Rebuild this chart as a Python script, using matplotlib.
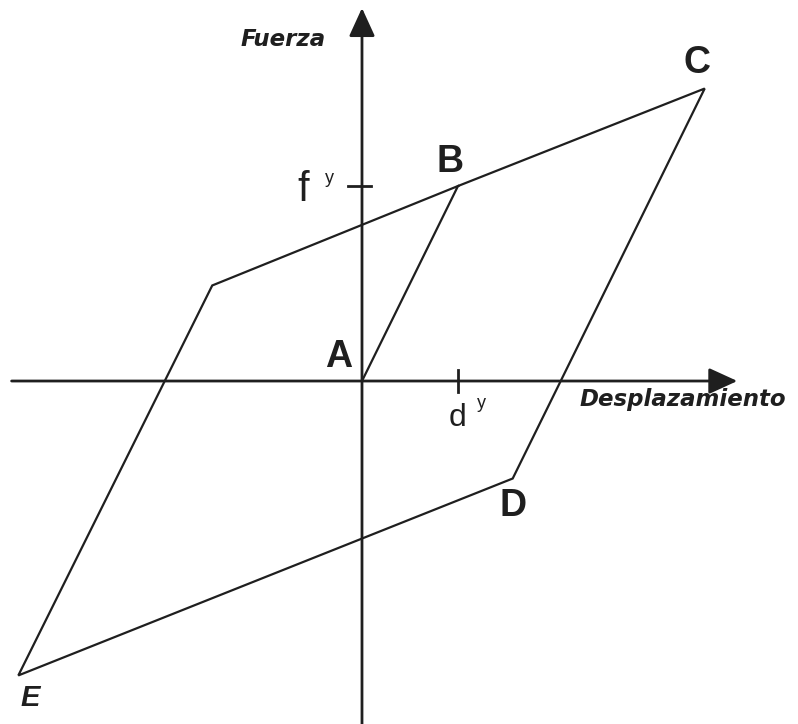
import matplotlib.pyplot as plt

# bilinear hysteresis loop, units of d^y (x) and f^y (y)
disp = [0.0, 1.0, 3.57, 1.57, -3.58, -1.56, 1.0]
force = [0.0, 1.0, 1.50, -0.50, -1.51, 0.49, 1.0]
point_names = ['A', 'B', 'C', 'D', 'E']

dy = 1.0    # yield displacement
fy = 1.0    # yield force

ink = '#1f1f1f'
plt.rcParams['font.family'] = ['Liberation Sans', 'DejaVu Sans']

fig = plt.figure(figsize=(7.98, 7.24), dpi=100)
ax = fig.add_axes([0, 0, 1, 1])
ax.set_xlim(-3.771, 4.542)
ax.set_ylim(-1.759, 1.954)
ax.axis('off')

# axes with arrow heads
arrow = dict(arrowstyle='-|>,head_length=1.75,head_width=0.8',
             color=ink, lw=2.0, shrinkA=0, shrinkB=0, mutation_scale=10)
ax.annotate('', xy=(3.91, 0), xytext=(-3.65, 0), arrowprops=arrow)
ax.annotate('', xy=(0, 1.913), xytext=(0, -1.76), arrowprops=arrow)

# yield ticks
ax.plot([-0.15, 0.09], [fy, fy], color=ink, lw=2.0)
ax.plot([dy, dy], [0.055, -0.055], color=ink, lw=2.0)

# the loop
ax.plot(disp, force, color=ink, lw=1.6, solid_joinstyle='miter')

# point labels (offsets in pixels from each vertex)
offsets = {'A': (-23, 24), 'B': (-8, 24), 'C': (-8, 26),
           'D': (0, -27), 'E': (12, -23)}
for i, name in enumerate(point_names):
    style = 'italic' if name == 'E' else 'normal'
    size = 21 if name == 'E' else 27
    ax.annotate(name, (disp[i], force[i]), xytext=offsets[name],
                textcoords='offset pixels', ha='center', va='center',
                fontsize=size, fontweight='bold', fontstyle=style,
                family='Liberation Sans', color=ink)

# axis titles
ax.text(-0.823, 1.749, 'Fuerza', fontsize=16.5, fontweight='bold',
        fontstyle='italic', family='DejaVu Sans', color=ink,
        ha='center', va='center')
ax.text(3.344, -0.097, 'Desplazamiento', fontsize=16.5, fontweight='bold',
        fontstyle='italic', family='DejaVu Sans', color=ink,
        ha='center', va='center')

# yield labels
ax.annotate('f', (0, fy), xytext=(-59, -4), textcoords='offset pixels',
            ha='center', va='center', fontsize=30, color=ink,
            family='Liberation Sans')
ax.annotate('y', (0, fy), xytext=(-33, 8), textcoords='offset pixels',
            ha='center', va='center', fontsize=13, color=ink,
            family='Liberation Sans')
ax.annotate('d', (dy, 0), xytext=(0, -37), textcoords='offset pixels',
            ha='center', va='center', fontsize=23, color=ink,
            family='Liberation Sans')
ax.annotate('y', (dy, 0), xytext=(23, -22), textcoords='offset pixels',
            ha='center', va='center', fontsize=13, color=ink,
            family='Liberation Sans')

fig.savefig('out.png', dpi=100, facecolor='white')
